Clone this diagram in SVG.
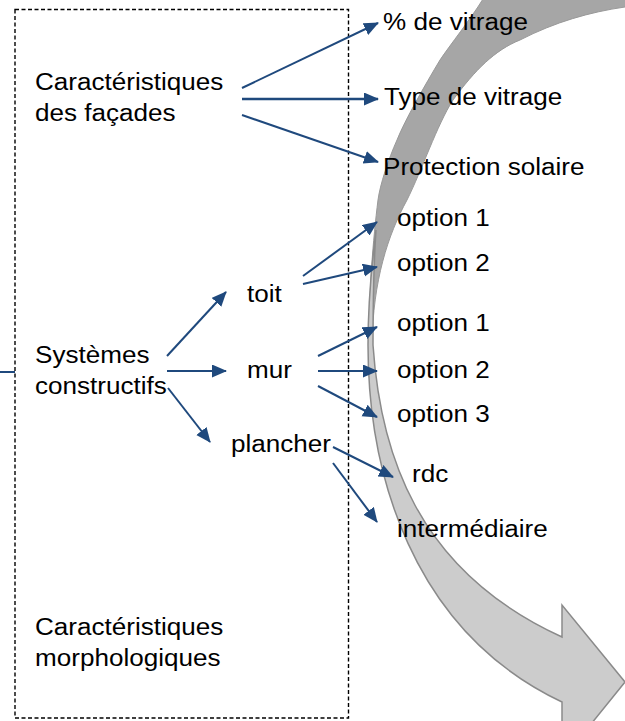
<svg xmlns="http://www.w3.org/2000/svg" width="625" height="721" viewBox="0 0 625 721">
<defs>
<style>
.t{font-family:"Liberation Sans",Arial,sans-serif;font-size:23.3px;fill:#000}
.c{stroke:#1F497D;stroke-width:2;fill:none}
.h{marker-end:url(#ah)}
</style>
<marker id="ah" markerUnits="userSpaceOnUse" markerWidth="16" markerHeight="14" refX="14" refY="6.5" orient="auto">
<path d="M0,0 L15,6.5 L0,13 Z" fill="#1F497D"/>
</marker>
</defs>
<rect width="625" height="721" fill="#fff"/>
<g id="curved-arrow">
<path d="M483,-4 L483,-1 C470,20 450,45 440,60 C425,85 405,120 397,140 C388,160 380,185 378,200 C373,240 369,290 369,345 L372,345 C373,280 388,235 407,200 C422,170 437,125 453,100 C475,70 495,50 520,40 C555,22 590,12 625,7 L630,7 L630,-4 Z" fill="#A6A6A6" stroke="#999" stroke-width="1"/>
<path d="M376,230 C371,270 368,310 368,345 C368,470 410,630 562,702 L562,760 L625,682 L562,605 L562,637 C415,570 380,450 373,345 C373,300 374,260 376,230 Z" fill="#CCCCCC" stroke="#8A8A8A" stroke-width="1.5" stroke-linejoin="miter"/>
</g>
<g id="frame">
<rect x="15" y="9.5" width="333.5" height="708.5" fill="none" stroke="#000" stroke-width="1.4" stroke-dasharray="4 2.5"/>
</g>
<g id="connectors">
<line class="c" x1="0" y1="372" x2="15" y2="372"/>
<line class="c h" x1="242" y1="88" x2="378" y2="23"/>
<line class="c h" x1="242" y1="99" x2="378" y2="99" style="stroke-width:2.5"/>
<line class="c h" x1="242" y1="115" x2="378" y2="162"/>
<line class="c h" x1="303" y1="276" x2="377" y2="222"/>
<line class="c h" x1="303" y1="284" x2="377" y2="267"/>
<line class="c h" x1="167" y1="356" x2="226" y2="292"/>
<line class="c h" x1="167" y1="371" x2="226" y2="371"/>
<line class="c h" x1="168" y1="388" x2="210" y2="442"/>
<line class="c h" x1="318" y1="356" x2="377" y2="327"/>
<line class="c h" x1="318" y1="371" x2="377" y2="371"/>
<line class="c h" x1="318" y1="386" x2="377" y2="417"/>
<line class="c h" x1="333" y1="447" x2="393" y2="477"/>
<line class="c h" x1="333" y1="463" x2="377" y2="522"/>
</g>
<g id="caracteristiques-facades"><text class="t" transform="translate(35,90) scale(1.12,1)">Caractéristiques</text><text class="t" transform="translate(35,121) scale(1.12,1)">des façades</text></g>
<g id="pct-vitrage"><text class="t" transform="translate(383,30) scale(1.12,1)">% de vitrage</text></g>
<g id="type-vitrage"><text class="t" transform="translate(384,105) scale(1.12,1)">Type de vitrage</text></g>
<g id="protection-solaire"><text class="t" transform="translate(383,175) scale(1.12,1)">Protection solaire</text></g>
<g id="toit-option1"><text class="t" transform="translate(397,226) scale(1.12,1)">option 1</text></g>
<g id="toit-option2"><text class="t" transform="translate(397,271) scale(1.12,1)">option 2</text></g>
<g id="toit"><text class="t" transform="translate(247,302) scale(1.12,1)">toit</text></g>
<g id="mur-option1"><text class="t" transform="translate(397,331) scale(1.12,1)">option 1</text></g>
<g id="systemes-constructifs"><text class="t" transform="translate(35,363) scale(1.12,1)">Systèmes</text><text class="t" transform="translate(35,394) scale(1.12,1)">constructifs</text></g>
<g id="mur"><text class="t" transform="translate(247,378) scale(1.12,1)">mur</text></g>
<g id="mur-option2"><text class="t" transform="translate(397,378) scale(1.12,1)">option 2</text></g>
<g id="mur-option3"><text class="t" transform="translate(397,422) scale(1.12,1)">option 3</text></g>
<g id="plancher"><text class="t" transform="translate(231,452) scale(1.12,1)">plancher</text></g>
<g id="rdc"><text class="t" transform="translate(412,482) scale(1.12,1)">rdc</text></g>
<g id="intermediaire"><text class="t" transform="translate(397,537) scale(1.12,1)">intermédiaire</text></g>
<g id="caracteristiques-morpho"><text class="t" transform="translate(35,635) scale(1.12,1)">Caractéristiques</text><text class="t" transform="translate(35,666) scale(1.12,1)">morphologiques</text></g>
</svg>
